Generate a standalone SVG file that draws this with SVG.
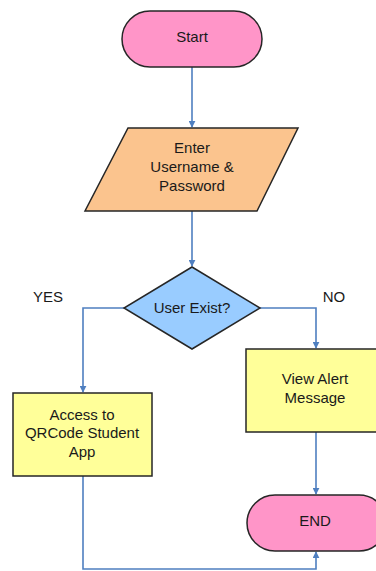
<svg xmlns="http://www.w3.org/2000/svg" width="376" height="571" viewBox="0 0 376 571">
  <style>
    .node { stroke: #262626; stroke-width: 1.5; }
    .term { fill: #ff95c8; }
    .io { fill: #fbc48e; }
    .dec { fill: #99ccff; }
    .proc { fill: #ffff99; }
    .lbl { font-family: "Liberation Sans", Arial, sans-serif; font-size: 15px; fill: #1a1a1a; text-anchor: middle; }
    .edge { fill: none; stroke: #4f7fc0; stroke-width: 1.6; }
  </style>
  <defs>
    <marker id="arrow" viewBox="0 0 10 10" refX="9" refY="5" markerWidth="7" markerHeight="7" markerUnits="userSpaceOnUse" orient="auto">
      <path d="M0,0 L10,5 L0,10 z" fill="#4f7fc0"/>
    </marker>
  </defs>
  <rect width="376" height="571" fill="#ffffff"/>

  <g id="connectors">
    <path class="edge" d="M192,67 V127" marker-end="url(#arrow)"/>
    <path class="edge" d="M192,211 V266" marker-end="url(#arrow)"/>
    <path class="edge" d="M124,308 H83 V392" marker-end="url(#arrow)"/>
    <path class="edge" d="M260,308 H316 V348" marker-end="url(#arrow)"/>
    <path class="edge" d="M316,432 V494" marker-end="url(#arrow)"/>
    <path class="edge" d="M83,476 V569 H316 V552" marker-end="url(#arrow)"/>
    <text class="lbl" x="48" y="302">YES</text>
    <text class="lbl" x="334" y="302">NO</text>
  </g>

  <g id="start">
    <rect class="node term" x="122" y="11" width="140" height="56" rx="28"/>
    <text class="lbl" x="192" y="42">Start</text>
  </g>

  <g id="input">
    <polygon class="node io" points="128,128 298,128 257,211 85,211"/>
    <text class="lbl" x="192" y="153">Enter</text>
    <text class="lbl" x="192" y="172">Username &amp;</text>
    <text class="lbl" x="192" y="191">Password</text>
  </g>

  <g id="decision">
    <polygon class="node dec" points="192,267 260,308 192,349 124,308"/>
    <text class="lbl" x="192" y="313">User Exist?</text>
  </g>

  <g id="access">
    <rect class="node proc" x="13" y="393" width="139" height="83"/>
    <text class="lbl" x="82" y="420">Access to</text>
    <text class="lbl" x="82" y="438">QRCode Student</text>
    <text class="lbl" x="82" y="457">App</text>
  </g>

  <g id="alert">
    <rect class="node proc" x="246" y="349" width="134" height="83"/>
    <text class="lbl" x="315" y="384">View Alert</text>
    <text class="lbl" x="315" y="403">Message</text>
  </g>

  <g id="end">
    <rect class="node term" x="247" y="495" width="140" height="56" rx="28"/>
    <text class="lbl" x="315" y="526">END</text>
  </g>
</svg>
